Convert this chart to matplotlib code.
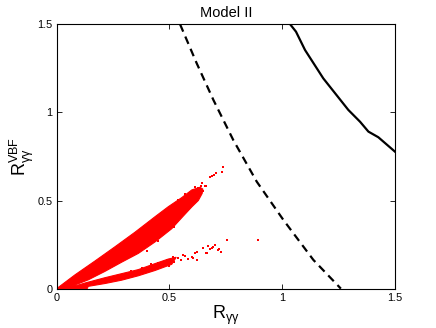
import matplotlib
matplotlib.use("Agg")
import matplotlib.pyplot as plt

plt.rcParams['font.family'] = ['Liberation Sans', 'DejaVu Sans']
plt.rcParams['mathtext.fontset'] = 'custom'
plt.rcParams['mathtext.rm'] = 'Liberation Sans'
plt.rcParams['mathtext.it'] = 'Liberation Sans:italic'

# ---- data ----
# dense upper branch outline (R_gg, R_gg^VBF)
upper_x = [0.0, 0.081, 0.17, 0.259, 0.347, 0.436, 0.495, 0.554, 0.599, 0.635, 0.648,
           0.645, 0.628, 0.60, 0.56, 0.51, 0.436, 0.362, 0.288, 0.214, 0.14, 0.10, 0.06, 0.02]
upper_y = [0.0, 0.078, 0.157, 0.238, 0.32, 0.408, 0.465, 0.516, 0.56, 0.575, 0.565,
           0.54, 0.50, 0.465, 0.41, 0.34, 0.265, 0.2, 0.15, 0.098, 0.05, 0.03, 0.012, 0.0]
# dense lower branch outline
lower_x = [0.0, 0.10, 0.126, 0.214, 0.288, 0.362, 0.436, 0.495, 0.53,
           0.51, 0.436, 0.362, 0.288, 0.214, 0.14, 0.135, 0.0]
lower_y = [0.0, 0.022, 0.032, 0.062, 0.085, 0.108, 0.142, 0.168, 0.178,
           0.138, 0.103, 0.073, 0.048, 0.029, 0.013, 0.0, 0.0]
# sparse points at the end / edges of the upper branch
up_pts_x = [0.739, 0.732, 0.706, 0.698, 0.687, 0.681, 0.646, 0.658, 0.664, 0.64, 0.625,
            0.615, 0.65, 0.62, 0.60, 0.585, 0.57, 0.55, 0.53, 0.49, 0.47, 0.61, 0.59,
            0.52, 0.45, 0.40, 0.57, 0.54]
up_pts_y = [0.689, 0.664, 0.658, 0.645, 0.639, 0.633, 0.601, 0.583, 0.58, 0.58, 0.57,
            0.575, 0.555, 0.52, 0.50, 0.47, 0.445, 0.42, 0.395, 0.35, 0.325, 0.55, 0.54,
            0.35, 0.27, 0.215, 0.535, 0.505]
# sparse points at the end / edges of the lower branch
lo_pts_x = [0.517, 0.539, 0.561, 0.569, 0.599, 0.613, 0.621, 0.647, 0.665, 0.672, 0.687,
            0.701, 0.717, 0.757, 0.894, 0.694, 0.68, 0.721, 0.727, 0.662, 0.621, 0.606,
            0.58, 0.55, 0.52, 0.49, 0.47, 0.45, 0.50, 0.42, 0.38, 0.33]
lo_pts_y = [0.182, 0.172, 0.191, 0.185, 0.182, 0.2, 0.163, 0.229, 0.2, 0.242, 0.229,
            0.25, 0.22, 0.276, 0.276, 0.235, 0.223, 0.223, 0.21, 0.2, 0.21, 0.172,
            0.17, 0.16, 0.15, 0.16, 0.15, 0.145, 0.13, 0.138, 0.118, 0.098]
# dashed bound
dash_x = [0.547, 0.621, 0.695, 0.783, 0.887, 1.005, 1.138, 1.26]
dash_y = [1.5, 1.278, 1.07, 0.843, 0.607, 0.39, 0.163, 0.0]
# solid bound
solid_x = [1.035, 1.061, 1.101, 1.182, 1.293, 1.345, 1.382, 1.426, 1.5]
solid_y = [1.5, 1.458, 1.354, 1.193, 1.014, 0.947, 0.891, 0.859, 0.777]

ticks = [0, 0.5, 1, 1.5]
tick_labels = ['0', '0.5', '1', '1.5']

fig = plt.figure(figsize=(4.36, 3.28), dpi=100)
ax = fig.add_axes([0.130, 0.120, 0.776, 0.806])

red = '#ff0000'
ax.fill(upper_x, upper_y, color=red, lw=0.8, ec=red)
ax.fill(lower_x, lower_y, color=red, lw=0.8, ec=red)
ax.scatter(up_pts_x, up_pts_y, s=3.2, c=red, marker='s', lw=0)
ax.scatter(lo_pts_x, lo_pts_y, s=3.2, c=red, marker='s', lw=0)

ax.plot(dash_x, dash_y, color='black', lw=1.6, dashes=(3.6, 2.4))
ax.plot(solid_x, solid_y, color='black', lw=1.6)

ax.set_xlim(0, 1.5)
ax.set_ylim(0, 1.5)
ax.set_xticks(ticks)
ax.set_xticklabels(tick_labels)
ax.set_yticks(ticks)
ax.set_yticklabels(tick_labels)
ax.tick_params(direction='in', length=3.5, width=0.6, labelsize=7.8,
               top=True, right=True, pad=3)
for s in ax.spines.values():
    s.set_linewidth(0.8)
    s.set_color('black')

ax.set_title('Model II', fontsize=10.5, pad=5)
ax.set_xlabel(r'$\mathrm{R}_{\mathrm{γγ}}$', fontsize=13, labelpad=1)
ax.set_ylabel(r'$\mathrm{R}_{\mathrm{γγ}}^{\mathrm{VBF}}$', fontsize=13, labelpad=1)

fig.savefig('out.png', dpi=100)
